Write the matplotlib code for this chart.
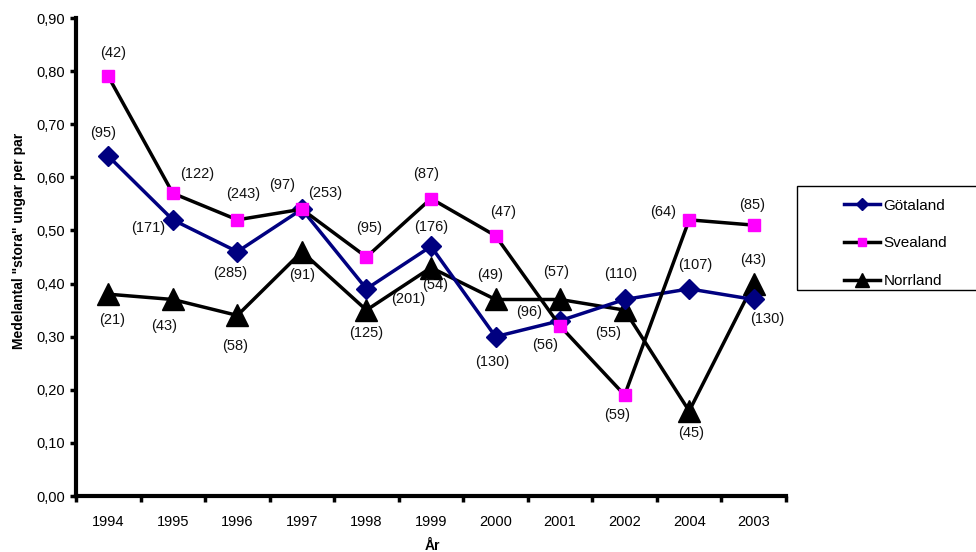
import matplotlib
matplotlib.use("Agg")
import matplotlib.pyplot as plt
from matplotlib.patches import Rectangle
from matplotlib.ticker import FixedLocator, FuncFormatter

plt.rcParams['font.family'] = ['Liberation Sans', 'DejaVu Sans']

years = ["1994", "1995", "1996", "1997", "1998", "1999", "2000", "2001", "2002", "2004", "2003"]
gotaland = [0.64, 0.52, 0.46, 0.54, 0.39, 0.47, 0.30, 0.33, 0.37, 0.39, 0.37]
svealand = [0.79, 0.57, 0.52, 0.54, 0.45, 0.56, 0.49, 0.32, 0.19, 0.52, 0.51]
norrland = [0.38, 0.37, 0.34, 0.46, 0.35, 0.43, 0.37, 0.37, 0.35, 0.16, 0.40]
gotaland_n = [95, 171, 285, 97, 201, 176, 130, 96, 110, 107, 130]
svealand_n = [42, 122, 243, 253, 95, 87, 47, 56, 59, 64, 85]
norrland_n = [21, 43, 58, 91, 125, 54, 49, 57, 55, 45, 43]

# label offsets in pixels (dx, dy with dy positive downward)
off_g = [(-5, -23), (-25, 8), (-7, 21), (-20, -24), (42, 10), (0, -19),
         (-3, 25), (-31, -9), (-4, -25), (6, -24), (14, 20)]
off_s = [(5, -23), (24, -19), (6, -26), (23, -16), (3, -29), (-5, -25),
         (8, -24), (-15, 19), (-8, 20), (-26, -8), (-2, -20)]
off_n = [(4, 26), (-9, 27), (-2, 31), (0, 23), (0, 23), (4, 17),
         (-5, -24), (-4, -27), (-17, 23), (2, 22), (-1, -24)]

fig = plt.figure(figsize=(9.76, 5.52), dpi=100)
ax = fig.add_axes([76/976, 1-496/552, (786-76)/976, (496-18)/552])

x = list(range(len(years)))
navy = '#000080'
magenta = '#FF00FF'

l1, = ax.plot(x, gotaland, color=navy, lw=2.5, marker='D', ms=10,
              mfc=navy, mec=navy, label='Götaland', zorder=3)
l2, = ax.plot(x, svealand, color='black', lw=2.5, marker='s', ms=9,
              mfc=magenta, mec=magenta, label='Svealand', zorder=4)
l3, = ax.plot(x, norrland, color='black', lw=2.5, marker='^', ms=16,
              mfc='black', mec='black', label='Norrland', zorder=2)

for vals, ns, offs in [(gotaland, gotaland_n, off_g), (svealand, svealand_n, off_s),
                       (norrland, norrland_n, off_n)]:
    for xi, v, n, (dx, dy) in zip(x, vals, ns, offs):
        ax.annotate(f"({n})", (xi, v), xytext=(dx, -dy), textcoords='offset pixels',
                    ha='center', va='center', fontsize=10.5, color='#111111')

ax.set_xlim(-0.5, len(years) - 0.5)
ax.set_ylim(0, 0.9)
ax.set_yticks([i / 10 for i in range(10)])
ax.yaxis.set_major_formatter(FuncFormatter(lambda v, p: f"{v:.2f}".replace('.', ',')))
ax.set_xticks(x)
ax.set_xticklabels(years)
ax.xaxis.set_minor_locator(FixedLocator([i + 0.5 for i in range(-1, len(years))]))
ax.tick_params(axis='x', which='major', length=0, pad=14, labelsize=10.5)
ax.tick_params(axis='x', which='minor', length=4, width=2.5, direction='out')
ax.tick_params(axis='y', which='major', length=4, width=2.5, direction='out', labelsize=10.5, pad=4)

for s in ['top', 'right']:
    ax.spines[s].set_visible(False)
for s in ['left', 'bottom']:
    ax.spines[s].set_linewidth(3)
    ax.spines[s].set_capstyle('projecting')

ax.set_ylabel('Medelantal "stora" ungar per par', fontsize=10, fontweight='bold')
ax.yaxis.set_label_coords((26 - 76) / 710, (496 - 241) / 478)
ax.set_xlabel('År', fontsize=10, fontweight='bold')
ax.xaxis.set_label_coords((432 - 76) / 710, (496 - 539) / 478)

# legend box
fig.patches.append(Rectangle((797/976, 1-290/552), (990-797)/976, (290-186)/552,
                             transform=fig.transFigure, fill=False, ec='black', lw=1))
leg = fig.legend(handles=[l1, l2, l3], loc='upper left',
                 bbox_to_anchor=(830/976, 1-185/552), frameon=False,
                 fontsize=11, handlelength=2.4, handletextpad=0.2,
                 labelspacing=1.55, markerscale=0.6)

fig.savefig('out.png', dpi=100)
